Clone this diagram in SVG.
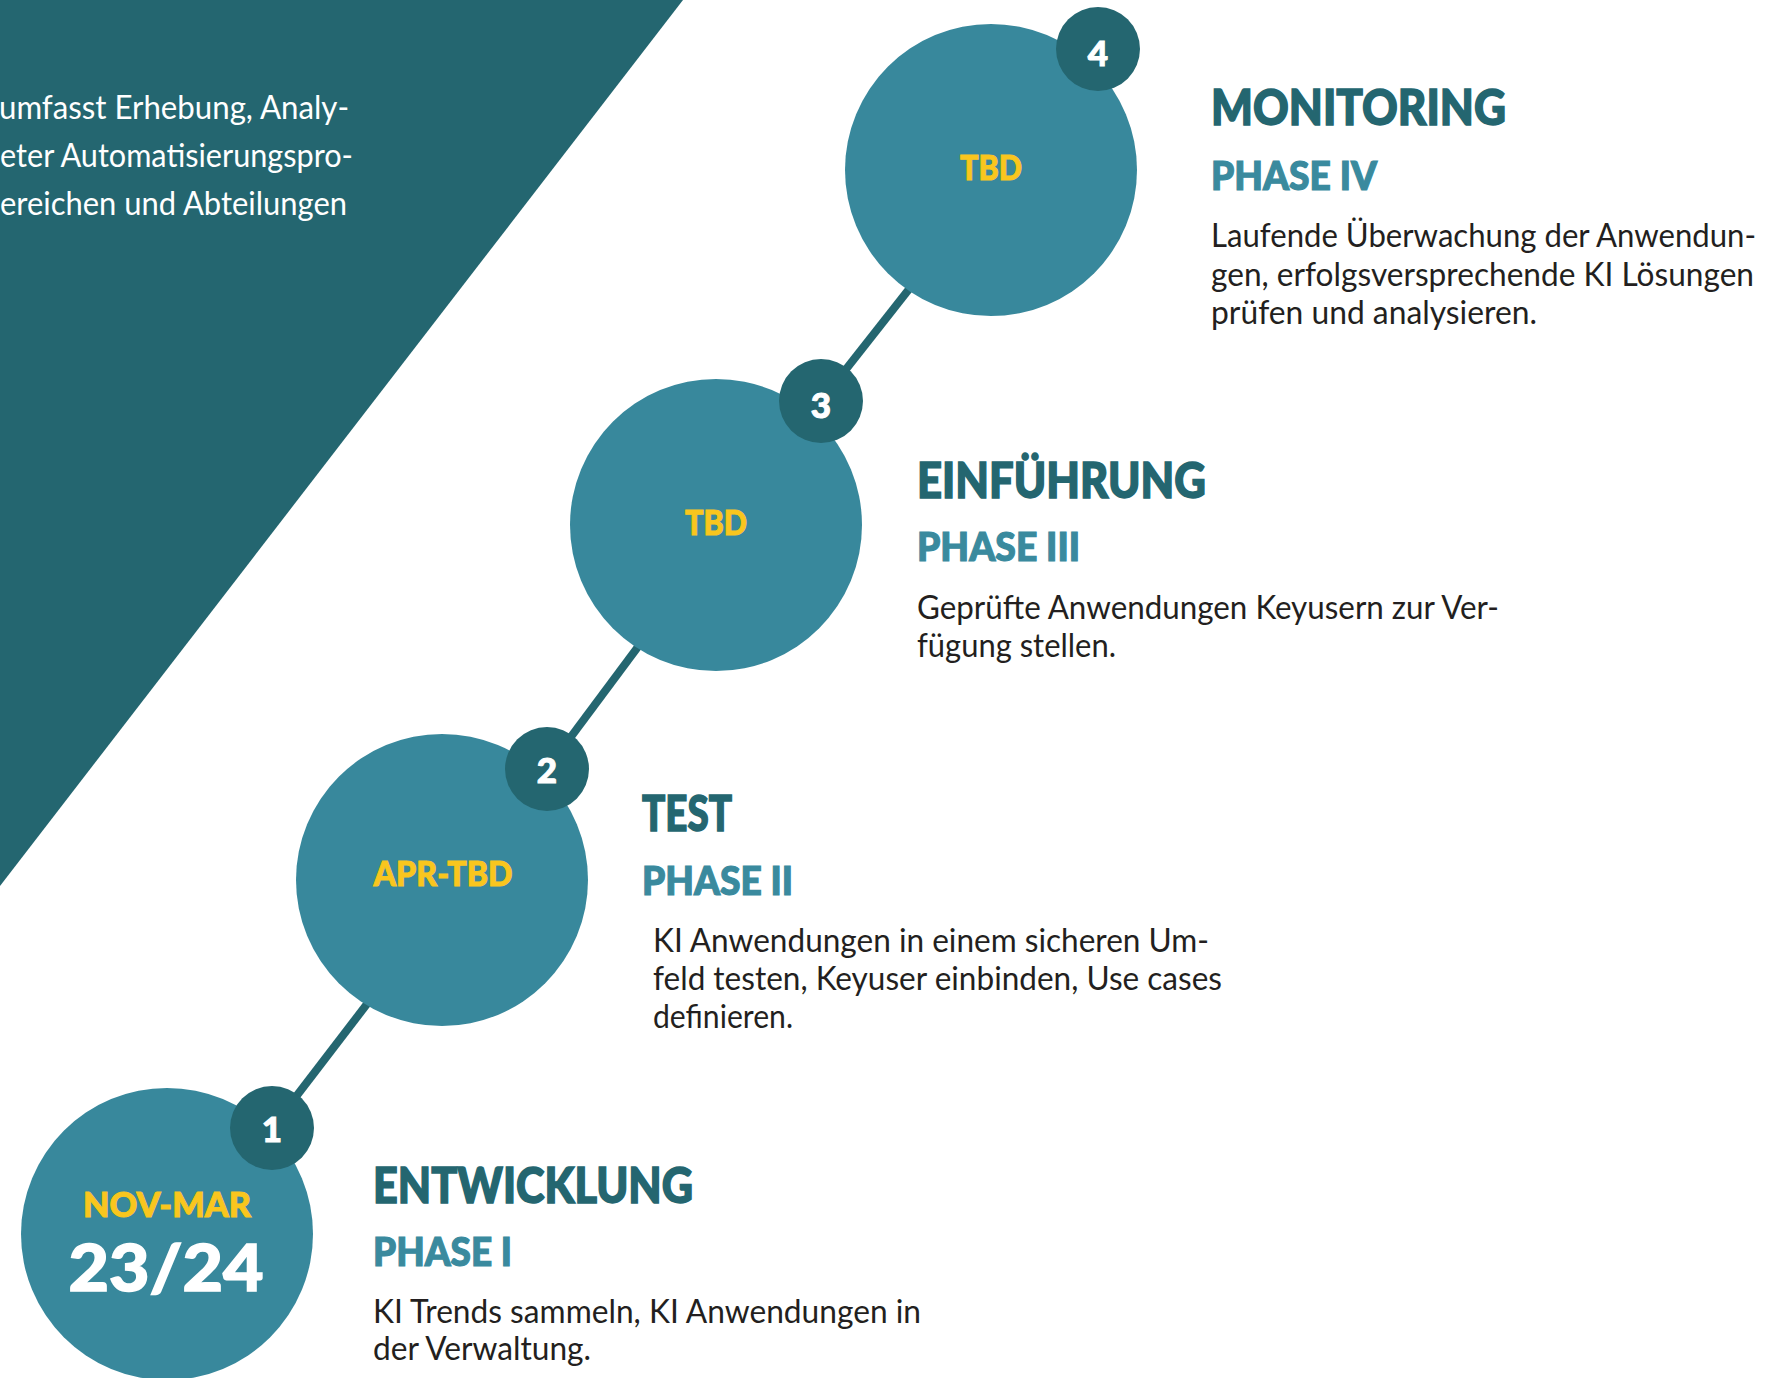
<svg xmlns="http://www.w3.org/2000/svg" width="1771" height="1378" viewBox="0 0 1771 1378">
  <style>
    .bg { fill: #ffffff; }
    .band { fill: #246670; }
    .conn { stroke: #246670; stroke-width: 8; fill: none; }
    .circle { fill: #38889c; }
    .badge { fill: #246670; }
    .badgeNum { font-family: Lato, "Open Sans", sans-serif; font-weight: 900; font-size: 35px; fill: #ffffff; stroke: #ffffff; stroke-width: 1; text-anchor: middle; }
    .date { font-family: Lato, "Open Sans", sans-serif; font-weight: 900; font-size: 35px; fill: #f9c61e; stroke: #f9c61e; stroke-width: 1; text-anchor: middle; }
    .year { font-family: Lato, "Open Sans", sans-serif; font-weight: 900; font-size: 65px; fill: #ffffff; stroke: #ffffff; stroke-width: 1.5; text-anchor: middle; }
    .title { font-family: Lato, "Open Sans", sans-serif; font-weight: 900; font-size: 49px; fill: #246670; stroke: #246670; stroke-width: 1.5; }
    .phase { font-family: Lato, "Open Sans", sans-serif; font-weight: 900; font-size: 39px; fill: #3a8a9e; stroke: #3a8a9e; stroke-width: 1.2; }
    .body { font-family: Lato, "Open Sans", sans-serif; font-weight: 400; font-size: 32px; fill: #231f20; }
    .intro { font-family: Lato, "Open Sans", sans-serif; font-weight: 400; font-size: 32px; fill: #ffffff; text-anchor: end; }
  </style>
  <rect class="bg" x="0" y="0" width="1771" height="1378"/>

  <g id="intro-band">
    <polygon class="band" points="0,0 683,0 0,886"/>
    <text class="intro" x="349" y="119" textLength="350" lengthAdjust="spacingAndGlyphs">umfasst Erhebung, Analy-</text>
    <text class="intro" x="353" y="167" textLength="353" lengthAdjust="spacingAndGlyphs">eter Automatisierungspro-</text>
    <text class="intro" x="347" y="215" textLength="347" lengthAdjust="spacingAndGlyphs">ereichen und Abteilungen</text>
  </g>

  <g id="connectors">
    <line class="conn" x1="272" y1="1128" x2="547" y2="769"/>
    <line class="conn" x1="547" y1="769" x2="821" y2="401"/>
    <line class="conn" x1="821" y1="401" x2="1098" y2="49"/>
  </g>

  <g id="phase1">
    <circle class="circle" cx="167" cy="1234" r="146"/>
    <text class="date" x="167" y="1217" textLength="168" lengthAdjust="spacingAndGlyphs">NOV-MAR</text>
    <text class="year" x="166" y="1291" textLength="195" lengthAdjust="spacingAndGlyphs">23/24</text>
    <circle class="badge" cx="272" cy="1128" r="42"/>
    <text class="badgeNum" x="272" y="1142">1</text>
    <text class="title" x="373" y="1203" textLength="320" lengthAdjust="spacingAndGlyphs">ENTWICKLUNG</text>
    <text class="phase" x="373" y="1266" textLength="139" lengthAdjust="spacingAndGlyphs">PHASE I</text>
    <text class="body" x="373" y="1323" textLength="548" lengthAdjust="spacingAndGlyphs">KI Trends sammeln, KI Anwendungen in</text>
    <text class="body" x="373" y="1360" textLength="218" lengthAdjust="spacingAndGlyphs">der Verwaltung.</text>
  </g>

  <g id="phase2">
    <circle class="circle" cx="442" cy="880" r="146"/>
    <text class="date" x="443" y="886" textLength="139" lengthAdjust="spacingAndGlyphs">APR-TBD</text>
    <circle class="badge" cx="547" cy="769" r="42"/>
    <text class="badgeNum" x="547" y="783">2</text>
    <text class="title" x="642" y="831" textLength="90" lengthAdjust="spacingAndGlyphs">TEST</text>
    <text class="phase" x="642" y="895" textLength="151" lengthAdjust="spacingAndGlyphs">PHASE II</text>
    <text class="body" x="653" y="952" textLength="556" lengthAdjust="spacingAndGlyphs">KI Anwendungen in einem sicheren Um-</text>
    <text class="body" x="653" y="990" textLength="569" lengthAdjust="spacingAndGlyphs">feld testen, Keyuser einbinden, Use cases</text>
    <text class="body" x="653" y="1028" textLength="140" lengthAdjust="spacingAndGlyphs">definieren.</text>
  </g>

  <g id="phase3">
    <circle class="circle" cx="716" cy="525" r="146"/>
    <text class="date" x="716" y="535" textLength="62" lengthAdjust="spacingAndGlyphs">TBD</text>
    <circle class="badge" cx="821" cy="401" r="42"/>
    <text class="badgeNum" x="821" y="418">3</text>
    <text class="title" x="917" y="498" textLength="289" lengthAdjust="spacingAndGlyphs">EINFÜHRUNG</text>
    <text class="phase" x="917" y="561" textLength="163" lengthAdjust="spacingAndGlyphs">PHASE III</text>
    <text class="body" x="917" y="619" textLength="582" lengthAdjust="spacingAndGlyphs">Geprüfte Anwendungen Keyusern zur Ver-</text>
    <text class="body" x="917" y="657" textLength="199" lengthAdjust="spacingAndGlyphs">fügung stellen.</text>
  </g>

  <g id="phase4">
    <circle class="circle" cx="991" cy="170" r="146"/>
    <text class="date" x="991" y="180" textLength="62" lengthAdjust="spacingAndGlyphs">TBD</text>
    <circle class="badge" cx="1098" cy="49" r="42"/>
    <text class="badgeNum" x="1098" y="66">4</text>
    <text class="title" x="1211" y="125" textLength="295" lengthAdjust="spacingAndGlyphs">MONITORING</text>
    <text class="phase" x="1211" y="190" textLength="166" lengthAdjust="spacingAndGlyphs">PHASE IV</text>
    <text class="body" x="1211" y="247" textLength="545" lengthAdjust="spacingAndGlyphs">Laufende Überwachung der Anwendun-</text>
    <text class="body" x="1211" y="286" textLength="543" lengthAdjust="spacingAndGlyphs">gen, erfolgsversprechende KI Lösungen</text>
    <text class="body" x="1211" y="324" textLength="326" lengthAdjust="spacingAndGlyphs">prüfen und analysieren.</text>
  </g>
</svg>
